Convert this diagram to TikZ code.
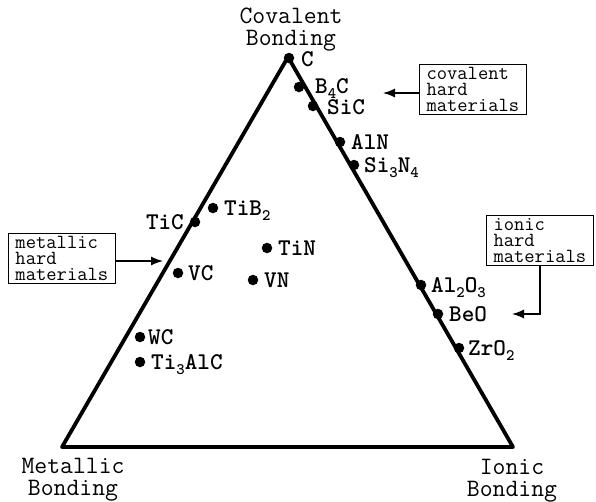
\documentclass[tikz,border=0pt]{standalone}
\usetikzlibrary{arrows.meta,calc}
\newcommand\sbs[1]{\raisebox{-5pt}{\fontsize{16}{16}\selectfont #1}}
\begin{document}
\begin{tikzpicture}[x=1pt,y=-1pt,
  pt/.style={circle,fill=black,inner sep=0pt,minimum size=10.5pt},
  lab/.style={font=\ttfamily\bfseries\fontsize{24}{24}\selectfont,inner sep=0pt,anchor=base west},
  labl/.style={lab,anchor=base east},
  axis/.style={font=\ttfamily\fontsize{25}{22}\selectfont,align=center,inner sep=0pt},
  box/.style={draw,line width=1pt,align=left,font=\ttfamily\fontsize{20}{16}\selectfont,
              inner xsep=7pt,inner ysep=3pt,anchor=north west},
  arr/.style={line width=1.3pt,-{Latex[length=12pt,width=9pt]}}]
\useasboundingbox (0,0) rectangle (596,501);

% triangle
\coordinate (A) at (288,57);
\coordinate (L) at (62,447);
\coordinate (R) at (513,447);
\draw[line width=3.8pt,line join=round] (A) -- (L) -- (R) -- cycle;

% corner labels
\node[axis] (cov) at (291,30) {Covalent\\Bonding};
\node[axis] (met) at (73,480) {Metallic\\Bonding};
\node[axis] (ion) at (512,481) {Ionic\\Bonding};

% points
\node[pt] (C) at (289,58) {};
\node[pt] (B4C) at (299,87) {};
\node[pt] (SiC) at (313,106) {};
\node[pt] (AlN) at (340,142) {};
\node[pt] (Si3N4) at (354,165) {};
\node[pt] (Al2O3) at (421,285) {};
\node[pt] (BeO) at (438,314) {};
\node[pt] (ZrO2) at (459,348) {};
\node[pt] (TiC) at (195,222) {};
\node[pt] (TiB2) at (213,208) {};
\node[pt] (TiN) at (267,248) {};
\node[pt] (VC) at (178,273) {};
\node[pt] (VN) at (253,280) {};
\node[pt] (WC) at (140,337) {};
\node[pt] (Ti3AlC) at (140,362) {};

% labels
\node[lab] (lC) at ($(C)+(12,8)$) {C};
\node[lab] (lB4C) at ($(B4C)+(16,6)$) {B\sbs{4}C};
\node[lab] (lSiC) at ($(SiC)+(14,8)$) {SiC};
\node[lab] (lAlN) at ($(AlN)+(11,7)$) {AlN};
\node[lab] (lSi3N4) at ($(Si3N4)+(10,7)$) {Si\sbs{3}N\sbs{4}};
\node[lab] (lAl2O3) at ($(Al2O3)+(10,7)$) {Al\sbs{2}O\sbs{3}};
\node[lab] (lBeO) at ($(BeO)+(11,7)$) {BeO};
\node[lab] (lZrO2) at ($(ZrO2)+(9,7)$) {ZrO\sbs{2}};
\node[labl] (lTiC) at ($(TiC)+(-11,7)$) {TiC};
\node[lab] (lTiB2) at ($(TiB2)+(11,7)$) {TiB\sbs{2}};
\node[lab] (lTiN) at ($(TiN)+(11,7)$) {TiN};
\node[lab] (lVC) at ($(VC)+(10,7)$) {VC};
\node[lab] (lVN) at ($(VN)+(11,7)$) {VN};
\node[lab] (lWC) at ($(WC)+(8,7)$) {WC};
\node[lab] (lTi3AlC) at ($(Ti3AlC)+(11,7)$) {Ti\sbs{3}AlC};

% boxes
\node[box] (bcov) at (419,64) {covalent\\hard\\materials};
\node[box] (bion) at (486,215) {ionic\\hard\\materials};
\node[box] (bmet) at (8,233) {metallic\\hard\\materials};

\coordinate (covtip) at (383,93);
\coordinate (iontip) at (512,314);
\coordinate (mettip) at (163,261);
\draw[arr] (bcov.west |- covtip) -- (covtip);
\draw[arr] (bion.south) |- (iontip);
\draw[arr] (bmet.east |- mettip) -- (mettip);
\end{tikzpicture}
\end{document}
